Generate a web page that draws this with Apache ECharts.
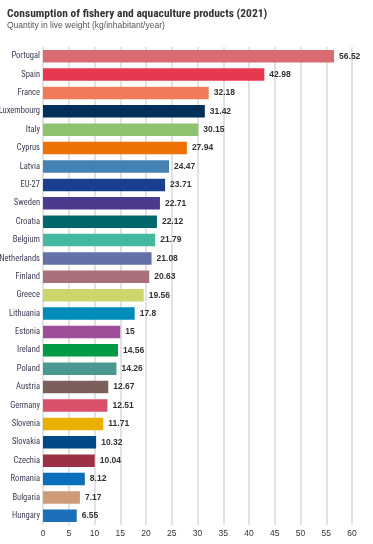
<!DOCTYPE html>
<html><head><meta charset="utf-8">
<script src="https://cdn.jsdelivr.net/npm/echarts@6/dist/echarts.min.js"></script>
<style>html,body{margin:0;padding:0;background:#fff}#c{width:373px;height:544px}</style>
</head><body><div id="c"></div>
<script>
const countries = ["Portugal","Spain","France","Luxembourg","Italy","Cyprus","Latvia","EU-27","Sweden","Croatia","Belgium","Netherlands","Finland","Greece","Lithuania","Estonia","Ireland","Poland","Austria","Germany","Slovenia","Slovakia","Czechia","Romania","Bulgaria","Hungary"];
const values = [56.52,42.98,32.18,31.42,30.15,27.94,24.47,23.71,22.71,22.12,21.79,21.08,20.63,19.56,17.8,15,14.56,14.26,12.67,12.51,11.71,10.32,10.04,8.12,7.17,6.55];
const barColors = ["#DB6B73","#E8384F","#EF7B5A","#00305A","#8DC26F","#EE7103","#4681B4","#1A3F8F","#4B3A8E","#00676A","#44B8A0","#6371A8","#A8707A","#CCD66A","#008CB8","#9E4F98","#009A44","#4A9890","#7A5F5A","#D8506A","#EAB000","#004B87","#9C3146","#0A6FBA","#CD9B78","#1C6FB8"];
const xTicks = [0,5,10,15,20,25,30,35,40,45,50,55,60];
const title = "Consumption of fishery and aquaculture products (2021)";
const subtitle = "Quantity in live weight (kg/inhabitant/year)";

const font = "'Liberation Sans Narrow','Arial Narrow','Roboto Condensed','Liberation Sans',sans-serif";
const chart = echarts.init(document.getElementById('c'), null, {renderer:'canvas'});
chart.setOption({
  animation:false,
  title:{
    text:title, subtext:subtitle, left:2, top:3, itemGap:1,
    textStyle:{fontFamily:font, fontSize:11.5, fontWeight:'bold', color:'#333'},
    subtextStyle:{fontFamily:"'Liberation Sans',sans-serif", fontSize:8.5, color:'#555'}
  },
  grid:{left:43, right:21, top:47, bottom:19, containLabel:false, outerBoundsMode:'none'},
  xAxis:{
    type:'value', min:xTicks[0], max:xTicks[xTicks.length-1], interval:5,
    axisLine:{show:false}, axisTick:{show:false},
    splitLine:{show:true, lineStyle:{color:'#d9d9d9', width:1.5}},
    axisLabel:{margin:4, fontSize:8.5, color:'#333', fontFamily:"'Liberation Sans',sans-serif"}
  },
  yAxis:{
    type:'category', data:countries, inverse:true,
    axisLine:{show:false}, axisTick:{show:false},
    axisLabel:{margin:3, fontSize:8.5, color:'#3b3b54', fontFamily:font}
  },
  series:[{
    type:'bar', barWidth:'68%',
    data:values.map((v,i)=>({value:v, itemStyle:{color:barColors[i]}})),
    label:{show:true, position:'right', distance:5, fontSize:8.5, fontWeight:'bold', color:'#333', fontFamily:"'Liberation Sans',sans-serif"}
  }]
});
</script></body></html>
